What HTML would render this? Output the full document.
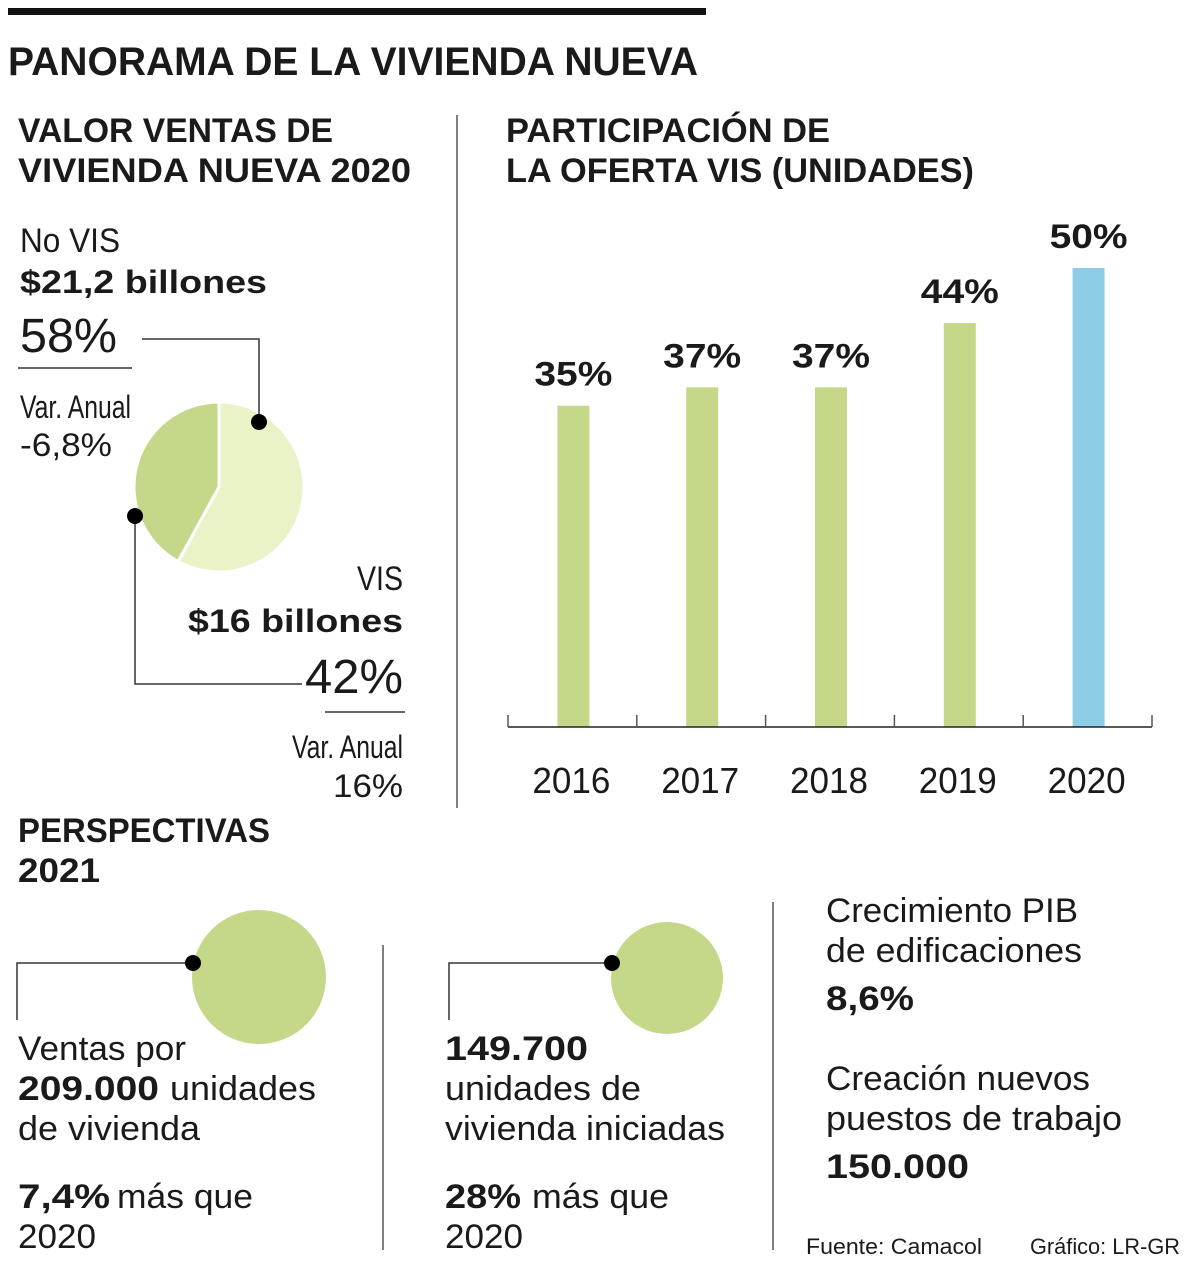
<!DOCTYPE html>
<html><head><meta charset="utf-8">
<style>
html,body{margin:0;padding:0;background:#fff;}
svg{display:block;font-family:"Liberation Sans",sans-serif;fill:#1a1a1a;}
.b{font-weight:bold;}
</style></head>
<body>
<svg id="root" width="1200" height="1262" viewBox="0 0 1200 1262" xmlns="http://www.w3.org/2000/svg">
<rect x="8" y="8" width="698" height="7" fill="#111"/>
<text x="8" y="75" font-size="40" class="b" textLength="690" lengthAdjust="spacingAndGlyphs">PANORAMA DE LA VIVIENDA NUEVA</text>

<g>
<text x="18" y="142" font-size="34" class="b" textLength="315" lengthAdjust="spacingAndGlyphs">VALOR VENTAS DE</text>
<text x="18" y="182" font-size="34" class="b" textLength="393" lengthAdjust="spacingAndGlyphs">VIVIENDA NUEVA 2020</text>
<g id="pie"></g>
<text x="20" y="252" font-size="34" textLength="100" lengthAdjust="spacingAndGlyphs">No VIS</text>
<text x="20" y="293" font-size="32" class="b" textLength="247" lengthAdjust="spacingAndGlyphs">$21,2 billones</text>
<text x="20" y="352" font-size="48" textLength="97" lengthAdjust="spacingAndGlyphs" style="font-weight:300">58%</text>
<line x1="18" y1="368" x2="132" y2="368" stroke="#333" stroke-width="1.5"/>
<polyline points="142,339 259,339 259,420" fill="none" stroke="#333" stroke-width="1.5"/>
<circle cx="259" cy="422" r="8" fill="#000"/>
<text x="20" y="418" font-size="32" textLength="111" lengthAdjust="spacingAndGlyphs">Var. Anual</text>
<text x="20" y="456" font-size="32" textLength="92" lengthAdjust="spacingAndGlyphs">-6,8%</text>
<polyline points="135,516 135,684 302,684" fill="none" stroke="#333" stroke-width="1.5"/>
<circle cx="135" cy="516" r="8" fill="#000"/>
<text x="403" y="590" font-size="34" text-anchor="end" textLength="46" lengthAdjust="spacingAndGlyphs">VIS</text>
<text x="403" y="632" font-size="32" class="b" text-anchor="end" textLength="215" lengthAdjust="spacingAndGlyphs">$16 billones</text>
<text x="403" y="693" font-size="48" text-anchor="end" textLength="98" lengthAdjust="spacingAndGlyphs">42%</text>
<line x1="325" y1="712" x2="405" y2="712" stroke="#333" stroke-width="1.5"/>
<text x="403" y="758" font-size="32" text-anchor="end" textLength="111" lengthAdjust="spacingAndGlyphs">Var. Anual</text>
<text x="403" y="797" font-size="32" text-anchor="end" textLength="70" lengthAdjust="spacingAndGlyphs">16%</text>
</g>

<line x1="457" y1="115" x2="457" y2="808" stroke="#555" stroke-width="1.5"/>

<g>
<text x="506" y="142" font-size="34" class="b" textLength="324" lengthAdjust="spacingAndGlyphs">PARTICIPACIÓN DE</text>
<text x="506" y="182" font-size="34" class="b" textLength="468" lengthAdjust="spacingAndGlyphs">LA OFERTA VIS (UNIDADES)</text>
<g id="bars"></g>
</g>

<g>
<text x="18" y="842" font-size="34" class="b" textLength="252" lengthAdjust="spacingAndGlyphs">PERSPECTIVAS</text>
<text x="18" y="882" font-size="34" class="b" textLength="82" lengthAdjust="spacingAndGlyphs">2021</text>
<circle cx="259" cy="977" r="67" fill="#c5d88a"/>
<circle cx="667" cy="978" r="56" fill="#c5d88a"/>
<polyline points="193,963 17,963 17,1020" fill="none" stroke="#333" stroke-width="1.5"/>
<circle cx="193" cy="963" r="8" fill="#000"/>
<polyline points="612,963 449,963 449,1020" fill="none" stroke="#333" stroke-width="1.5"/>
<circle cx="612" cy="963" r="8" fill="#000"/>
<line x1="383" y1="945" x2="383" y2="1250" stroke="#555" stroke-width="1.5"/>
<line x1="773" y1="902" x2="773" y2="1250" stroke="#555" stroke-width="1.5"/>

<text x="18" y="1060" font-size="34" textLength="168" lengthAdjust="spacingAndGlyphs">Ventas por</text>
<text x="18" y="1100" font-size="34" class="b" textLength="141" lengthAdjust="spacingAndGlyphs">209.000</text>
<text x="170" y="1100" font-size="34" textLength="146" lengthAdjust="spacingAndGlyphs">unidades</text>
<text x="18" y="1140" font-size="34" textLength="182" lengthAdjust="spacingAndGlyphs">de vivienda</text>
<text x="18" y="1208" font-size="34" class="b" textLength="92" lengthAdjust="spacingAndGlyphs">7,4%</text>
<text x="117" y="1208" font-size="34" textLength="136" lengthAdjust="spacingAndGlyphs">más que</text>
<text x="18" y="1248" font-size="34" textLength="78" lengthAdjust="spacingAndGlyphs">2020</text>

<text x="445" y="1060" font-size="34" class="b" textLength="143" lengthAdjust="spacingAndGlyphs">149.700</text>
<text x="445" y="1100" font-size="34" textLength="196" lengthAdjust="spacingAndGlyphs">unidades de</text>
<text x="445" y="1140" font-size="34" textLength="280" lengthAdjust="spacingAndGlyphs">vivienda iniciadas</text>
<text x="445" y="1208" font-size="34" class="b" textLength="76" lengthAdjust="spacingAndGlyphs">28%</text>
<text x="532" y="1208" font-size="34" textLength="137" lengthAdjust="spacingAndGlyphs">más que</text>
<text x="445" y="1248" font-size="34" textLength="78" lengthAdjust="spacingAndGlyphs">2020</text>

<text x="826" y="922" font-size="34" textLength="252" lengthAdjust="spacingAndGlyphs">Crecimiento PIB</text>
<text x="826" y="962" font-size="34" textLength="256" lengthAdjust="spacingAndGlyphs">de edificaciones</text>
<text x="826" y="1010" font-size="34" class="b" textLength="88" lengthAdjust="spacingAndGlyphs">8,6%</text>
<text x="826" y="1090" font-size="34" textLength="264" lengthAdjust="spacingAndGlyphs">Creación nuevos</text>
<text x="826" y="1130" font-size="34" textLength="296" lengthAdjust="spacingAndGlyphs">puestos de trabajo</text>
<text x="826" y="1178" font-size="34" class="b" textLength="143" lengthAdjust="spacingAndGlyphs">150.000</text>
</g>
<text x="806" y="1254" font-size="22" textLength="176" lengthAdjust="spacingAndGlyphs">Fuente: Camacol</text>
<text x="1030" y="1254" font-size="22" textLength="150" lengthAdjust="spacingAndGlyphs">Gráfico: LR-GR</text>
</svg>
<script>
const years = ["2016","2017","2018","2019","2020"];
const shares = [35, 37, 37, 44, 50];
const barColors = ["#c5d88a","#c5d88a","#c5d88a","#c5d88a","#8ecde6"];
const pieLabels = ["No VIS","VIS"];
const pieValues = [58, 42];
const pieColors = ["#eaf2c8","#c5d88a"];

const NS = "http://www.w3.org/2000/svg";
function mk(tag, attrs, parent){const e=document.createElementNS(NS,tag);for(const k in attrs)e.setAttribute(k,attrs[k]);parent.appendChild(e);return e;}

const axisY = 727, x0 = 508, band = 128.8, pxPer = 9.18, barW = 32;
const xScale = i => x0 + band*i + band/2 + 1;
const yScale = v => axisY - v*pxPer;
const bars = document.getElementById('bars');
years.forEach((y,i)=>{
  const cx = xScale(i);
  const r = mk('rect',{x:cx-barW/2,y:yScale(shares[i]),width:barW,height:axisY-yScale(shares[i]),fill:barColors[i]},bars);
  
  
  const t = mk('text',{x:cx,y:yScale(shares[i])-20,'font-size':34,'font-weight':'bold','text-anchor':'middle',textLength:78,lengthAdjust:'spacingAndGlyphs'},bars);
  t.textContent = shares[i]+'%';
  
  
  const l = mk('text',{x:cx-2,y:793,'font-size':36,'text-anchor':'middle',textLength:78,lengthAdjust:'spacingAndGlyphs'},bars);
  l.textContent = y;
  
  
});
const ax = mk('line',{x1:x0,y1:axisY,x2:x0+band*years.length,y2:axisY,stroke:'#222','stroke-width':1.5},bars);


for(let i=0;i<=years.length;i++){
  const tk = mk('line',{x1:x0+band*i,y1:axisY-12,x2:x0+band*i,y2:axisY,stroke:'#555','stroke-width':1.5},bars);
  
  
}

const pie = document.getElementById('pie');
const pcx=219, pcy=487, pr=85;
const total = pieValues.reduce((a,b)=>a+b,0);
let acc=0;
pieValues.forEach((v,i)=>{
  const a0 = acc/total*2*Math.PI; acc+=v; const a1 = acc/total*2*Math.PI;
  const p = (a)=>[pcx+pr*Math.sin(a), pcy-pr*Math.cos(a)];
  const [sx,sy]=p(a0),[ex,ey]=p(a1);
  const large = (a1-a0)>Math.PI?1:0;
  const s = mk('path',{d:`M${pcx},${pcy} L${sx},${sy} A${pr},${pr} 0 ${large} 1 ${ex},${ey} Z`,fill:pieColors[i],stroke:'#fff','stroke-width':3,'stroke-linejoin':'round'},pie);
  
  
});
</script>
</body></html>
